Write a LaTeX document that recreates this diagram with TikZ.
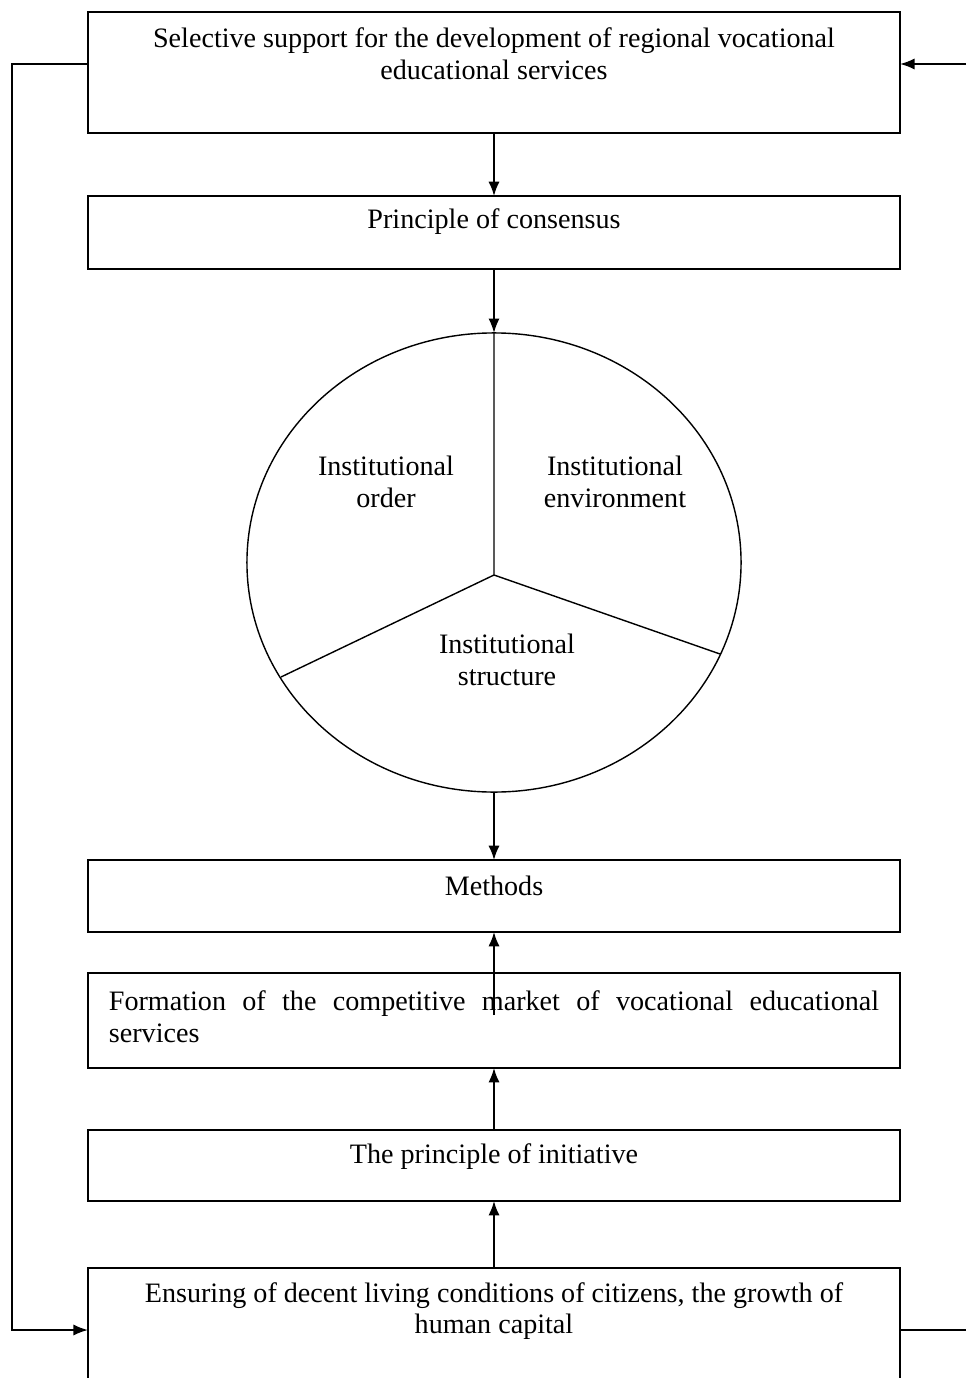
\documentclass[tikz,border=0pt]{standalone}
\usepackage{fontspec}
\setmainfont{Liberation Serif}
\usetikzlibrary{positioning,calc,shapes.geometric,arrows.meta}
\tikzset{
	box/.style = {draw, line width=1.4pt, minimum width=20.3cm, inner sep=0pt, outer sep=0pt},
	txt/.style = {align=center, font=\fontsize{20}{22.5}\selectfont},
	link/.style = {line width=1.2pt},
	tip/.style = {-{Latex[length=3.6mm,width=2.8mm]}}
}

\begin{document}
\begin{tikzpicture}[x=0.025cm, y=-0.025cm]
			\useasboundingbox (0,0) rectangle (966,1378);
			\node[box, minimum height=3.025cm] (sel) at (494,72.5) {};
			\node[box, minimum height=1.825cm] (cons) at (494,232.5) {};
			\node[draw, ellipse, line width=1pt, minimum width=12.35cm, minimum height=11.475cm, inner sep=0pt, outer sep=0pt] (inst) at (494,562.5) {};
			\node[box, minimum height=1.8cm] (meth) at (494,896) {};
			\node[box, minimum height=2.375cm] (form) at (494,1020.5) {};
			\node[box, minimum height=1.775cm] (init) at (494,1165.5) {};
			\node[box, minimum height=3.5cm] (ens) at (494,1338) {};
			
			\node[txt] (selt) at ($(sel.north)+(0,41.5)$) {Selective support for the development of regional vocational\\educational services};
			\node[txt] (const) at ($(cons.north)+(0,26)$) {Principle of consensus};
			\node[txt] (metht) at ($(meth.north)+(0,26)$) {Methods};
			\node[txt, align=justify, text width=19.25cm] (formt) at ($(form.north)+(0,43.5)$) {Formation of the competitive market of vocational educational\linebreak services};
			\node[txt] (initt) at ($(init.north)+(0,27)$) {The principle of initiative};
			\node[txt] (enst) at ($(ens.north)+(0,43)$) {Ensuring of decent living conditions of citizens, the growth of\\human capital};
			
			% circle parts
			\coordinate (hub) at (494,575);
			\coordinate (lp) at (281,677);
			\coordinate (rp) at (720,654);
			\draw[line width=1pt] (inst.north) -- (hub) -- (lp) (hub) -- (rp);
			\node[txt] (order) at (386,482) {Institutional\\order};
			\node[txt] (env) at (615,482) {Institutional\\environment};
			\node[txt] (struct) at (507,660) {Institutional\\structure};
			
			\foreach \a/\b in {sel.south/cons.north, cons.south/inst.north, inst.south/meth.north, init.north/form.south, ens.north/init.south} {\draw[link, tip] (\a) -- (\b);}
			\coordinate (formin) at (494,1015);
			\draw[link, tip] (formin) -- (meth.south);
			
			% feedback lines
			\coordinate (ltop) at (12,64);
			\coordinate (lbot) at (12,1330);
			\coordinate (rtop) at (966,64);
			\coordinate (rbot) at (966,1330);
			\draw[link, tip] ($(sel.west)+(0,-8.5)$) -- (ltop) -- (lbot) -- ($(ens.west)+(0,-8)$);
			\draw[link, tip] (rtop) -- ($(sel.east)+(0,-8.5)$);
			\draw[link] ($(ens.east)+(0,-8)$) -- (rbot);
\end{tikzpicture}
\end{document}
